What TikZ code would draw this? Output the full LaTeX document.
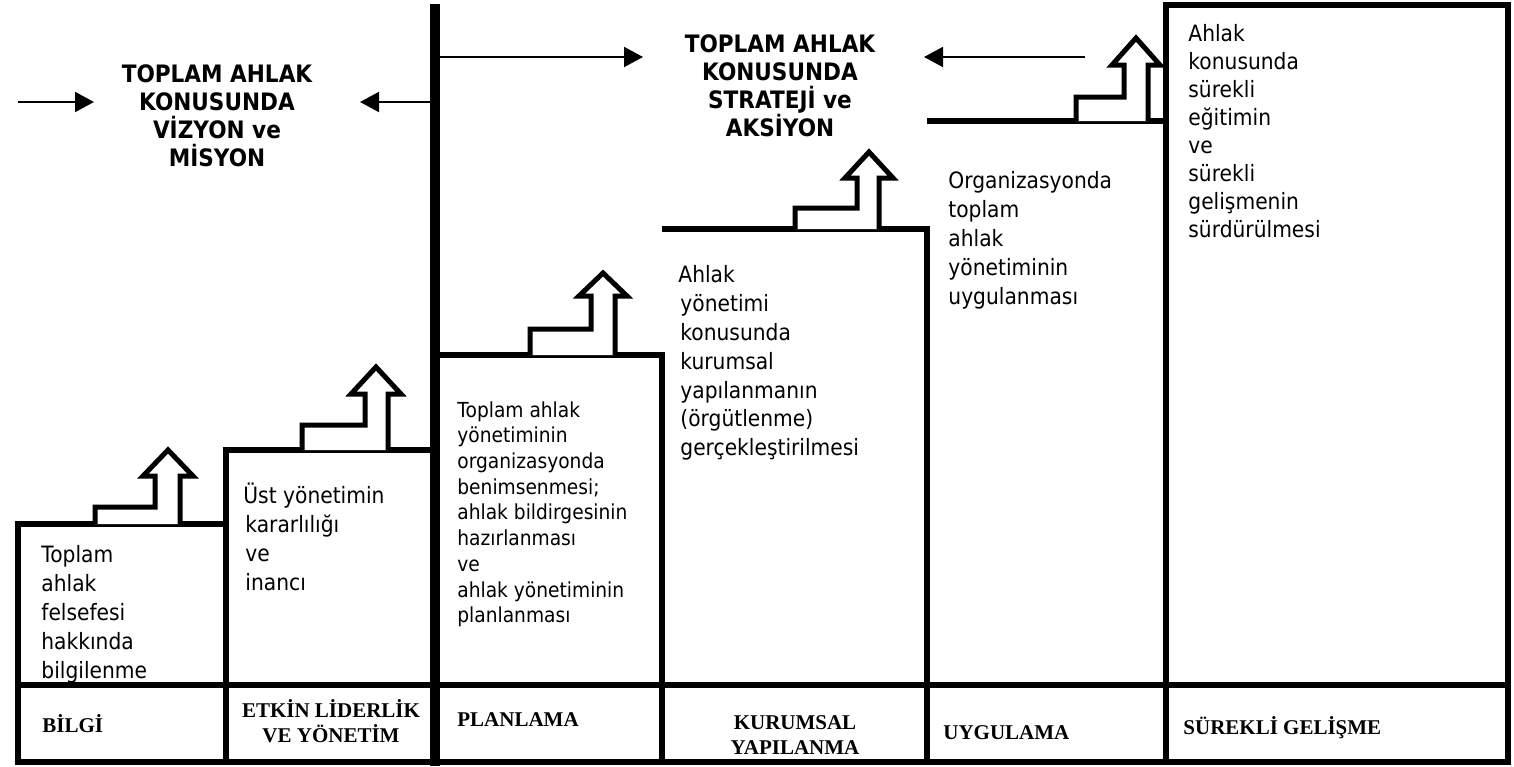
\documentclass[tikz,border=0pt]{standalone}
\usepackage{fontspec}
\setmainfont{DejaVu Sans}[FakeStretch=0.9]
\newfontfamily\tms{Liberation Serif}
\usetikzlibrary{arrows.meta}
\begin{document}
\begin{tikzpicture}[x=0.5pt,y=-0.5pt,
  stepline/.style={line width=2.9pt,line join=miter},
  thickline/.style={line width=5pt},
  hollow/.style={line width=2.5pt,line join=miter,fill=white},
  conn/.style={line width=1pt,-{Triangle[length=9.5pt,width=10pt]}},
  body/.style={anchor=north west,inner sep=0pt,align=left,font=\fontsize{11.25}{14.4}\selectfont},
  small/.style={anchor=north west,inner sep=0pt,align=left,font=\fontsize{10.35}{12.85}\selectfont},
  title/.style={anchor=north,inner sep=0pt,align=center,font=\bfseries\fontsize{12}{14}\selectfont},
  lab/.style={inner sep=0pt,font=\tms\bfseries\fontsize{10.5}{12.5}\selectfont}
]
\useasboundingbox (0,0) rectangle (1514,766);
% steps
\draw[stepline] (1166,762) -- (1166,5) -- (1508,5) -- (1508,762) -- (18,762) -- (18,524) -- (226,524);
\draw[stepline] (226,762) -- (226,450) -- (435,450);
\draw[stepline] (435,355) -- (662,355) -- (662,762);
\draw[stepline] (662,229) -- (927,229) -- (927,762);
\draw[stepline] (927,121) -- (1166,121);
\draw[stepline] (18,685) -- (1508,685);
\draw[thickline] (435,4) -- (435,766);
% hollow bent arrows
\draw[hollow] (95,524)--(95,507)--(155,507)--(155,476)--(143,476)--(168,450)--(193,476)--(180,476)--(180,524);
\draw[hollow] (302,450)--(302,425)--(365,425)--(365,394)--(351,394)--(376,367)--(401,394)--(388,394)--(388,450);
\draw[hollow] (530,355)--(530,329)--(591,329)--(591,296)--(579,296)--(603,273)--(627,296)--(615,296)--(615,355);
\draw[hollow] (795,229)--(795,208)--(857,208)--(857,178)--(845,178)--(869,152)--(893,178)--(879,178)--(879,229);
\draw[hollow] (1076,121)--(1076,97)--(1124,97)--(1124,65)--(1112,65)--(1136,38)--(1160,65)--(1148,65)--(1148,121);
% titles
\node[title] (t1) at (217,58) {\rule{0pt}{1em}TOPLAM AHLAK\\KONUSUNDA\\VİZYON ve\\MİSYON};
\node[title] (t2) at (780,28) {\rule{0pt}{1em}TOPLAM AHLAK\\KONUSUNDA\\STRATEJİ ve\\AKSİYON};
% connectors
\coordinate (a1s) at (18,102);  \coordinate (a1e) at (94,102);
\coordinate (a2s) at (431,102); \coordinate (a2e) at (360,102);
\coordinate (a3s) at (440,57);  \coordinate (a3e) at (643,57);
\coordinate (a4s) at (1085,57); \coordinate (a4e) at (924,57);
\draw[conn] (a1s) -- (a1e);
\draw[conn] (a2s) -- (a2e);
\draw[conn] (a3s) -- (a3e);
\draw[conn] (a4s) -- (a4e);
% body texts
\node[body] (c1) at (41,540) {\rule{0pt}{1em}Toplam\\ahlak\\felsefesi\\hakkında\\bilgilenme};
\node[body] (c2) at (243,481) {\rule{0pt}{1em}Üst yönetimin\\\hspace{1pt}kararlılığı\\\hspace{1pt}ve\\\hspace{1pt}inancı};
\node[small] (c3) at (457,396) {\rule{0pt}{1em}Toplam ahlak\\yönetiminin\\organizasyonda\\benimsenmesi;\\ahlak bildirgesinin\\hazırlanması\\ve\\ahlak yönetiminin\\planlanması};
\node[body] (c4) at (678,260) {\rule{0pt}{1em}Ahlak\\\hspace{1pt}yönetimi\\\hspace{1pt}konusunda\\\hspace{1pt}kurumsal\\\hspace{1pt}yapılanmanın\\\hspace{1pt}(örgütlenme)\\\hspace{1pt}gerçekleştirilmesi};
\node[body] (c5) at (948,166) {\rule{0pt}{1em}Organizasyonda\\toplam\\ahlak\\yönetiminin\\uygulanması};
\node[body,font=\fontsize{11.25}{14}\selectfont] (c6) at (1188,19) {\rule{0pt}{1em}Ahlak\\konusunda\\sürekli\\eğitimin\\ve\\sürekli\\gelişmenin\\sürdürülmesi};
% bottom labels
\node[lab,anchor=base west] (l1) at (42,732) {BİLGİ};
\node[lab,anchor=north,align=center] (l2) at (331,696) {\rule{0pt}{1em}ETKİN LİDERLİK\\VE YÖNETİM};
\node[lab,anchor=base west] (l3) at (457,726) {PLANLAMA};
\node[lab,anchor=north,align=center] (l4) at (795,708) {\rule{0pt}{1em}KURUMSAL\\YAPILANMA};
\node[lab,anchor=base west] (l5) at (943,739) {UYGULAMA};
\node[lab,anchor=base west] (l6) at (1183,734) {SÜREKLİ GELİŞME};
\end{tikzpicture}
\end{document}
